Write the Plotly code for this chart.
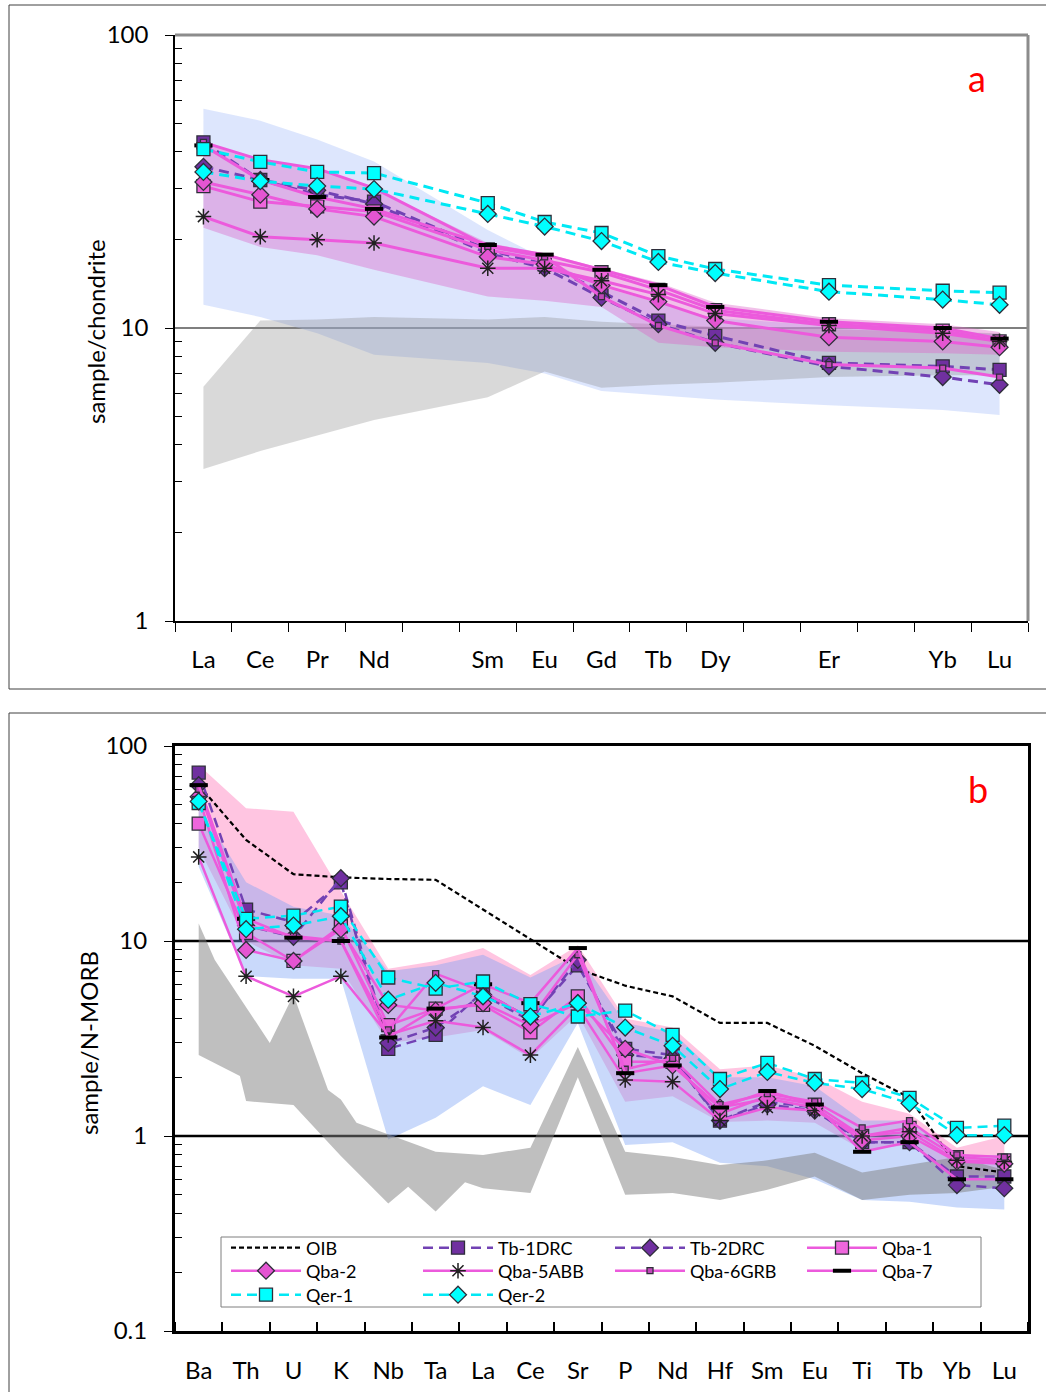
import plotly.graph_objects as go

W, H = 1046, 1392

# ---------------- Panel a : chondrite-normalised REE ----------------
ree_axis = ["La", "Ce", "Pr", "Nd", "Pm", "Sm", "Eu", "Gd", "Tb", "Dy", "Ho", "Er", "Tm", "Yb", "Lu"]
ree_labels = ["La", "Ce", "Pr", "Nd", "Sm", "Eu", "Gd", "Tb", "Dy", "Er", "Yb", "Lu"]

a_tb1 = [43, 32, 28.5, 27, 18.5, 16.5, 13.3, 10.6, 9.4, 7.6, 7.4, 7.2]
a_tb2 = [35.5, 32, 29.5, 26.5, 18, 16, 12.7, 10.3, 8.9, 7.4, 6.8, 6.4]
a_qba1 = [30.5, 27, 26, 25, 18.5, 17, 15.5, 13.5, 11.5, 10.3, 9.8, 9.0]
a_qba2 = [31.5, 28.5, 25.5, 24, 17.5, 16.5, 14, 12.3, 10.6, 9.3, 9.0, 8.6]
a_qba5 = [24, 20.5, 20, 19.5, 16, 16, 14.5, 13, 11.2, 10.2, 9.6, 9.0]
a_qba6 = [43, 37.5, 35, 30, 19, 17.5, 12.8, 10.2, 8.9, 7.5, 7.3, 6.8]
a_qba7 = [42, 32, 28, 25.5, 19.2, 17.8, 15.8, 14, 11.8, 10.5, 10, 9.2]
a_qer1 = [40.8, 36.9, 34.1, 33.8, 26.7, 23.0, 21.1, 17.6, 15.9, 14.0, 13.4, 13.2]
a_qer2 = [34.1, 31.7, 30.5, 29.8, 24.5, 22.2, 19.8, 16.8, 15.4, 13.3, 12.5, 12.0]

a_blue_up = [56, 51, 44, 37, 21.6, 17.3, 13.8, 12.2, 10.8, 10.2, 9.8, 9.5]
a_blue_lo = [12, 10.9, 9.6, 8.1, 7.6, 7.0, 6.1, 5.9, 5.7, 5.45, 5.25, 5.05]
a_gray_up = [6.3, 10.6, 10.7, 10.9, 10.7, 10.9, 10.5, 10.3, 10.1, 9.9, 9.7, 9.6]
a_gray_lo = [3.3, 3.8, 4.3, 4.85, 5.8, 7.1, 6.25, 6.4, 6.5, 6.8, 6.9, 6.9]
a_pink_up = [43, 37.5, 35, 30, 19.5, 18, 16, 14.3, 12.2, 10.8, 10.3, 9.7]
a_pink_lo = [22, 18.9, 17.7, 15.8, 12.8, 12.4, 11.8, 8.9, 8.6, 8.3, 8.2, 8.1]

# ---------------- Panel b : N-MORB-normalised spider ----------------
sp_labels = ["Ba", "Th", "U", "K", "Nb", "Ta", "La", "Ce", "Sr", "P", "Nd", "Hf", "Sm", "Eu", "Ti", "Tb", "Yb", "Lu"]

b_oib = [63, 33, 22, 21.2, 20.8, 20.6, 14.5, 10.2, 7.2, 5.9, 5.2, 3.8, 3.8, 2.9, 2.1, 1.57, 0.70, 0.65]
b_tb1 = [73, 14.5, 12.5, 20, 2.8, 3.3, 5.5, 4.0, 7.5, 2.8, 2.6, 1.2, 1.5, 1.4, 0.93, 0.93, 0.62, 0.62]
b_tb2 = [63, 12, 10.5, 21, 3.0, 3.6, 5.3, 3.9, 8.0, 2.6, 2.5, 1.2, 1.45, 1.35, 0.93, 0.93, 0.56, 0.54]
b_qba1 = [40, 11, 7.9, 11.9, 3.7, 4.5, 4.7, 3.4, 5.2, 2.4, 2.4, 1.3, 1.6, 1.45, 1.0, 1.1, 0.78, 0.75]
b_qba2 = [55, 9.0, 7.9, 11.5, 4.7, 4.4, 4.8, 3.7, 4.8, 2.8, 2.3, 1.4, 1.55, 1.4, 0.95, 1.0, 0.74, 0.72]
b_qba5 = [27, 6.6, 5.2, 6.6, 3.3, 3.9, 3.6, 2.6, 4.6, 1.94, 1.9, 1.2, 1.4, 1.35, 1.0, 1.05, 0.75, 0.74]
b_qba6 = [60, 12, 10.6, 10, 3.5, 6.8, 5.5, 4.0, 8.5, 2.2, 2.5, 1.45, 1.65, 1.5, 1.1, 1.2, 0.8, 0.78]
b_qba7 = [63, 13, 10.4, 10, 3.2, 4.5, 6.0, 4.8, 9.2, 2.1, 2.3, 1.4, 1.7, 1.45, 0.83, 0.93, 0.6, 0.6]
b_qer1 = [51, 13, 13.5, 15, 6.5, 5.7, 6.2, 4.75, 4.1, 4.4, 3.3, 1.96, 2.37, 1.96, 1.87, 1.57, 1.1, 1.13]
b_qer2 = [52, 11.5, 12, 13.4, 5.0, 6.1, 5.2, 4.1, 4.8, 3.6, 2.9, 1.74, 2.13, 1.87, 1.74, 1.47, 1.01, 1.01]

b_pink_up = [80, 48, 46, 18, 7.2, 7.9, 9.2, 6.7, 9.5, 4.0, 3.6, 2.2, 2.3, 2.0, 1.5, 1.3, 0.87, 1.0]
b_pink_lo = [30, 10, 7.5, 7.2, 3.0, 3.2, 3.5, 2.5, 4.2, 1.5, 1.6, 1.18, 1.2, 1.17, 0.85, 0.9, 0.62, 0.62]
b_blue_up = [50, 20, 15, 13.5, 7.0, 7.5, 8.5, 6.5, 8.5, 3.8, 3.4, 2.0, 2.0, 1.8, 1.2, 1.2, 0.8, 0.8]
b_blue_lo = [24, 6.6, 6.4, 6.4, 0.96, 1.24, 1.8, 1.44, 3.8, 0.9, 0.93, 0.73, 0.70, 0.6, 0.47, 0.46, 0.43, 0.42]
b_gray_up_x = [0, 0.34, 1.5, 2.0, 2.73, 3.0, 3.33, 4.0, 5.0, 6.0, 7.0, 8.0, 9.0, 10.0, 11.0, 12.0, 13.0, 14.0, 15.0, 16.0, 17.0]
b_gray_up = [12.3, 8.0, 3.0, 5.3, 1.72, 1.54, 1.17, 1.02, 0.83, 0.8, 0.87, 2.86, 0.83, 0.78, 0.71, 0.75, 0.82, 0.65, 0.71, 0.78, 0.67]
b_gray_lo_x = [0, 0.87, 1.0, 2.0, 3.0, 4.0, 4.42, 5.0, 5.62, 6.0, 7.0, 8.0, 9.0, 10.0, 11.0, 12.0, 13.0, 14.0, 15.0, 16.0, 17.0]
b_gray_lo = [2.6, 2.03, 1.51, 1.44, 0.79, 0.45, 0.55, 0.41, 0.58, 0.54, 0.51, 2.0, 0.5, 0.51, 0.47, 0.53, 0.62, 0.47, 0.5, 0.51, 0.55]

FONT = "Lato, 'Open Sans', sans-serif"
PURPLE_L = "#7242B4"
PURPLE_M = "#7030A0"
PINK_L = "#EC5ADC"
PINK_M = "#EE66DC"
CYAN = "#00E8F4"
CYAN_M = "#00FFFF"
EDGE = "#2E2E3A"

fig = go.Figure()

ax_a = [ree_axis.index(e) for e in ree_labels]
ax_b = list(range(len(sp_labels)))


def band(xs_up, up, xs_lo, lo, color, xa, ya):
    fig.add_trace(go.Scatter(
        x=list(xs_up) + list(xs_lo)[::-1], y=list(up) + list(lo)[::-1],
        fill="toself", fillcolor=color, mode="lines", line=dict(width=0),
        hoverinfo="skip", showlegend=False, xaxis=xa, yaxis=ya))


# shaded fields, panel a
band(ax_a, a_blue_up, ax_a, a_blue_lo, "rgba(180,200,250,0.45)", "x", "y")
band(ax_a, a_gray_up, ax_a, a_gray_lo, "rgba(128,128,128,0.30)", "x", "y")
band(ax_a, a_pink_up, ax_a, a_pink_lo, "rgba(220,100,200,0.40)", "x", "y")

# shaded fields, panel b
band(ax_b, b_pink_up, ax_b, b_pink_lo, "rgba(255,110,180,0.40)", "x2", "y2")
band(ax_b, b_blue_up, ax_b, b_blue_lo, "rgba(120,160,245,0.40)", "x2", "y2")
band(b_gray_up_x, b_gray_up, b_gray_lo_x, b_gray_lo, "rgba(128,128,128,0.50)", "x2", "y2")

series = [
    ("Tb-1DRC", a_tb1, b_tb1, PURPLE_L, "dash", "square", PURPLE_M, 13),
    ("Tb-2DRC", a_tb2, b_tb2, PURPLE_L, "dash", "diamond", PURPLE_M, 13),
    ("Qba-1", a_qba1, b_qba1, PINK_L, "solid", "square", PINK_M, 13),
    ("Qba-2", a_qba2, b_qba2, PINK_L, "solid", "diamond", "#E455D2", 13),
    ("Qba-5ABB", a_qba5, b_qba5, PINK_L, "solid", "asterisk-open", "#202020", 13),
    ("Qba-6GRB", a_qba6, b_qba6, PINK_L, "solid", "square", "#C048B8", 6),
    ("Qba-7", a_qba7, b_qba7, PINK_L, "solid", "line-ew", "#000000", 13),
    ("Qer-1", a_qer1, b_qer1, CYAN, "dash", "square", CYAN_M, 13),
    ("Qer-2", a_qer2, b_qer2, CYAN, "dash", "diamond", CYAN_M, 13),
]
legend_rows = ["legend", "legend2", "legend3"]


def marker_for(sym, col, size):
    if sym == "asterisk-open":
        return dict(symbol=sym, size=size, color=col, line=dict(color="#1a1a1a", width=1.5))
    if sym == "line-ew":
        return dict(symbol=sym, size=size, color=col, line=dict(color="#000000", width=4))
    return dict(symbol=sym, size=size, color=col, line=dict(color=EDGE, width=1.3))


for name, av, bv, lc, dash, sym, mc, ms in series:
    fig.add_trace(go.Scatter(
        x=ax_a, y=av, mode="lines+markers", name=name, showlegend=False,
        line=dict(color=lc, width=3, dash="10px,6px" if dash == "dash" else "solid"),
        marker=marker_for(sym, mc, ms), xaxis="x", yaxis="y"))

fig.add_trace(go.Scatter(
    x=ax_b, y=b_oib, mode="lines", name="OIB", legend="legend",
    line=dict(color="#000000", width=2.2, dash="5px,3px"), xaxis="x2", yaxis="y2"))

for i, (name, av, bv, lc, dash, sym, mc, ms) in enumerate(series):
    fig.add_trace(go.Scatter(
        x=ax_b, y=bv, mode="lines+markers", name=name, legend=legend_rows[(i + 1) // 4],
        line=dict(color=lc, width=2.5, dash="10px,6px" if dash == "dash" else "solid"),
        marker=marker_for(sym, mc, ms), xaxis="x2", yaxis="y2"))

xdom = [175 / W, 1028 / W]
tickfont = dict(family=FONT, size=24, color="#000000")


def legend_row(yc):
    return dict(orientation="h", x=226 / W, y=(H - yc) / H, xanchor="left", yanchor="middle",
                bgcolor="rgba(0,0,0,0)", borderwidth=0,
                font=dict(family=FONT, size=18, color="#000000"),
                itemwidth=70, entrywidth=107, entrywidthmode="pixels", tracegroupgap=0)


fig.update_layout(
    width=W, height=H, margin=dict(l=0, r=0, t=0, b=0, autoexpand=False),
    paper_bgcolor="white", plot_bgcolor="white",
    font=dict(family=FONT, color="#000000"),
    xaxis=dict(domain=xdom, anchor="y", range=[-0.5, 14.5], automargin=False,
               tickmode="array", tickvals=ax_a, ticktext=ree_labels,
               ticks="", ticklabelstandoff=16, tickfont=tickfont,
               showgrid=False, zeroline=False,
               showline=True, linecolor="#000000", linewidth=1.5,
               minor=dict(tickmode="linear", tick0=0.5, dtick=1, ticks="outside",
                          ticklen=9, tickcolor="#000000", tickwidth=1, showgrid=False)),
    yaxis=dict(domain=[(H - 621) / H, (H - 35) / H], anchor="x", type="log", automargin=False,
               range=[0, 2], tickmode="array", tickvals=[1, 10, 100],
               ticktext=["1", "10", "100"], ticks="outside", ticklen=8,
               tickcolor="#000000", ticklabelstandoff=12, tickfont=tickfont,
               showgrid=False, zeroline=False,
               showline=True, linecolor="#000000", linewidth=1.5,
               minor=dict(tickmode="array",
                          tickvals=[2, 3, 4, 5, 6, 7, 8, 9, 20, 30, 40, 50, 60, 70, 80, 90],
                          ticks="inside", ticklen=7, tickcolor="#000000", showgrid=False)),
    xaxis2=dict(domain=xdom, anchor="y2", range=[-0.5, 17.5], automargin=False,
                tickmode="array", tickvals=ax_b, ticktext=sp_labels,
                ticks="", ticklabelstandoff=16, tickfont=tickfont,
                showgrid=False, zeroline=False,
                showline=True, mirror=True, linecolor="#000000", linewidth=3,
                minor=dict(tickmode="linear", tick0=0.5, dtick=1, ticks="inside",
                           ticklen=9, tickcolor="#000000", tickwidth=1.5, showgrid=False)),
    yaxis2=dict(domain=[(H - 1331) / H, (H - 746) / H], anchor="x2", type="log", automargin=False,
                range=[-1, 2], tickmode="array", tickvals=[0.1, 1, 10, 100],
                ticktext=["0.1", "1", "10", "100"], ticks="outside", ticklen=8,
                tickcolor="#000000", ticklabelstandoff=12, tickfont=tickfont,
                showgrid=False, zeroline=False,
                showline=True, mirror=True, linecolor="#000000", linewidth=3,
                minor=dict(tickmode="array",
                           tickvals=[0.2, 0.3, 0.4, 0.5, 0.6, 0.7, 0.8, 0.9,
                                     2, 3, 4, 5, 6, 7, 8, 9, 20, 30, 40, 50, 60, 70, 80, 90],
                           ticks="inside", ticklen=7, tickcolor="#000000", showgrid=False)),
    legend=legend_row(1248),
    legend2=legend_row(1271),
    legend3=legend_row(1295),
    shapes=[
        dict(type="rect", xref="paper", yref="paper", x0=9 / W, x1=1.02,
             y0=(H - 689) / H, y1=(H - 5) / H, line=dict(color="#404040", width=1)),
        dict(type="rect", xref="paper", yref="paper", x0=9 / W, x1=1.02,
             y0=-0.02, y1=(H - 713) / H, line=dict(color="#404040", width=1)),
        dict(type="line", xref="x domain", yref="y domain", x0=0, x1=1, y0=1, y1=1,
             line=dict(color="#8c8c8c", width=3)),
        dict(type="line", xref="x domain", yref="y domain", x0=1, x1=1, y0=0, y1=1,
             line=dict(color="#8c8c8c", width=3)),
        dict(type="line", xref="x domain", yref="y", x0=0, x1=1, y0=10, y1=10,
             line=dict(color="#000000", width=1.2), layer="below"),
        dict(type="line", xref="x2 domain", yref="y2", x0=0, x1=1, y0=10, y1=10,
             line=dict(color="#000000", width=2.5), layer="below"),
        dict(type="line", xref="x2 domain", yref="y2", x0=0, x1=1, y0=1, y1=1,
             line=dict(color="#000000", width=2.5), layer="below"),
        dict(type="rect", xref="paper", yref="paper", x0=221 / W, x1=981 / W,
             y0=(H - 1307) / H, y1=(H - 1237) / H, fillcolor="white",
             line=dict(color="#7f7f7f", width=1), layer="above"),
    ],
    annotations=[
        dict(text="sample/chondrite", xref="paper", yref="paper", x=95 / W, y=(H - 332) / H,
             xanchor="center", yanchor="middle",
             textangle=-90, showarrow=False, font=dict(family=FONT, size=24, color="#000000")),
        dict(text="sample/N-MORB", xref="paper", yref="paper", x=88 / W, y=(H - 1043) / H,
             xanchor="center", yanchor="middle",
             textangle=-90, showarrow=False, font=dict(family=FONT, size=24, color="#000000")),
        dict(text="a", xref="paper", yref="paper", x=977 / W, y=(H - 78) / H,
             xanchor="center", yanchor="middle",
             showarrow=False, font=dict(family=FONT, size=36, color="#FF0000")),
        dict(text="b", xref="paper", yref="paper", x=978 / W, y=(H - 789) / H,
             xanchor="center", yanchor="middle",
             showarrow=False, font=dict(family=FONT, size=36, color="#FF0000")),
    ],
)

fig.write_html("out.html")
